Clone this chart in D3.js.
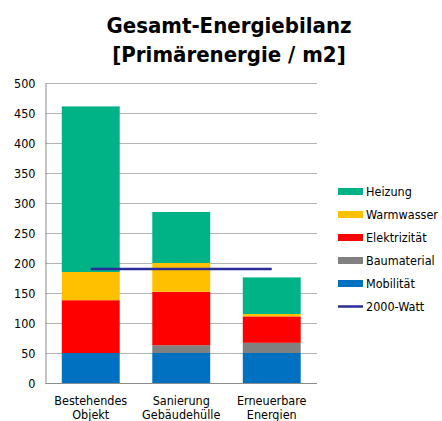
<!DOCTYPE html>
<html lang="de">
<head>
<meta charset="UTF-8">
<title>Gesamt-Energiebilanz</title>
<script src="https://cdn.jsdelivr.net/npm/d3@7"></script>
<style>
    body { margin: 0; background: #fff; }
    text { font-family: "DejaVu Sans", sans-serif; font-stretch: condensed; fill: #000; }
    .title { font-weight: bold; font-size: 22px; }
    .grid line { stroke: #b4b4b4; stroke-width: 1; }
</style>
</head>
<body>
<div id="chart"></div>
<script>
// categories (two-line labels)
const categories = [["Bestehendes", "Objekt"], ["Sanierung", "Gebäudehülle"], ["Erneuerbare", "Energien"]];
// series, bottom to top
const mobilitaet    = [50, 50, 50];
const baumaterial   = [0, 13, 17];
const elektrizitaet = [88, 89, 44];
const warmwasser    = [47, 48, 4];
const heizung       = [276, 85, 61];
const watt2000      = [190, 190, 190];
const yTicks = [0, 50, 100, 150, 200, 250, 300, 350, 400, 450, 500];

const series = [
    {name: "Mobilität",    values: mobilitaet,    color: "#0070c0"},
    {name: "Baumaterial",  values: baumaterial,   color: "#808080"},
    {name: "Elektrizität", values: elektrizitaet, color: "#ff0000"},
    {name: "Warmwasser",   values: warmwasser,    color: "#ffc000"},
    {name: "Heizung",      values: heizung,       color: "#00b386"}
];
const lineColor = "#2b2b9c";

const width = 442, height = 421;
const svg = d3.select("#chart").append("svg")
    .attr("width", width)
    .attr("height", height);

/* title */
svg.append("text").attr("class", "title")
    .attr("x", 229).attr("y", 33).attr("text-anchor", "middle")
    .text("Gesamt-Energiebilanz");
svg.append("text").attr("class", "title")
    .attr("x", 229).attr("y", 62).attr("text-anchor", "middle")
    .text("[Primärenergie / m2]");

const keys = categories.map(c => c.join(" "));
const x = d3.scaleBand()
    .domain(keys)
    .range([45.5, 317])
    .paddingInner(0.36)
    .paddingOuter(0.18);

const y = d3.scaleLinear()
    .domain([0, 500])
    .range([383, 83]);

/* gridlines */
svg.append("g").attr("class", "grid")
    .selectAll("line")
    .data(yTicks.slice(1))
    .enter().append("line")
    .attr("x1", 45.5).attr("x2", 317)
    .attr("y1", d => Math.round(y(d)) + 0.5)
    .attr("y2", d => Math.round(y(d)) + 0.5);

/* y axis */
const yAxis = svg.append("g")
    .attr("transform", "translate(45.5,0)")
    .call(d3.axisLeft(y).tickValues(yTicks).tickSize(0).tickPadding(10));
yAxis.select(".domain").attr("stroke", "#8c8c8c");
yAxis.selectAll("text").style("font-size", "12.5px").style("font-stretch", "condensed")
    .style("font-family", "'DejaVu Sans', sans-serif");

/* stacked bars */
const table = keys.map((k, i) => {
    const row = {key: k};
    series.forEach(s => { row[s.name] = s.values[i]; });
    return row;
});
const stack = d3.stack().keys(series.map(s => s.name))(table);

svg.append("g")
    .selectAll("g")
    .data(stack)
    .enter().append("g")
    .attr("fill", (d, i) => series[i].color)
    .selectAll("rect")
    .data(d => d)
    .enter().append("rect")
    .attr("x", d => x(d.data.key))
    .attr("width", x.bandwidth())
    .attr("y", d => y(d[1]))
    .attr("height", d => y(d[0]) - y(d[1]));

/* x axis line */
svg.append("line")
    .attr("x1", 45.5).attr("x2", 317)
    .attr("y1", 383.5).attr("y2", 383.5)
    .attr("stroke", "#8c8c8c");

/* category labels */
const cat = svg.append("g")
    .selectAll("text")
    .data(categories)
    .enter().append("text")
    .attr("text-anchor", "middle")
    .style("font-size", "12.5px")
    .attr("x", (d, i) => x(keys[i]) + x.bandwidth() / 2)
    .attr("y", 405);
cat.append("tspan").text(d => d[0]);
cat.append("tspan")
    .attr("x", (d, i) => x(keys[i]) + x.bandwidth() / 2)
    .attr("dy", 14)
    .text(d => d[1]);

/* 2000-Watt line */
const line = d3.line()
    .x((d, i) => x(keys[i]) + x.bandwidth() / 2)
    .y(d => y(d));
svg.append("path")
    .datum(watt2000)
    .attr("d", line)
    .attr("fill", "none")
    .attr("stroke", lineColor)
    .attr("stroke-width", 2.5);

/* legend */
const legendItems = series.slice().reverse().map(s => ({name: s.name, color: s.color, type: "bar"}));
legendItems.push({name: "2000-Watt", color: lineColor, type: "line"});

const legend = svg.append("g")
    .selectAll("g")
    .data(legendItems)
    .enter().append("g")
    .attr("transform", (d, i) => "translate(338," + (191.5 + i * 23) + ")");

legend.filter(d => d.type === "bar").append("rect")
    .attr("x", 0).attr("y", -3.5)
    .attr("width", 25).attr("height", 7)
    .attr("fill", d => d.color);
legend.filter(d => d.type === "line").append("line")
    .attr("x1", 0).attr("x2", 25)
    .attr("y1", 0).attr("y2", 0)
    .attr("stroke", d => d.color)
    .attr("stroke-width", 2.5);
legend.append("text")
    .attr("x", 28).attr("y", 0)
    .attr("dy", "0.35em")
    .style("font-size", "12.5px")
    .text(d => d.name);
</script>
</body>
</html>
